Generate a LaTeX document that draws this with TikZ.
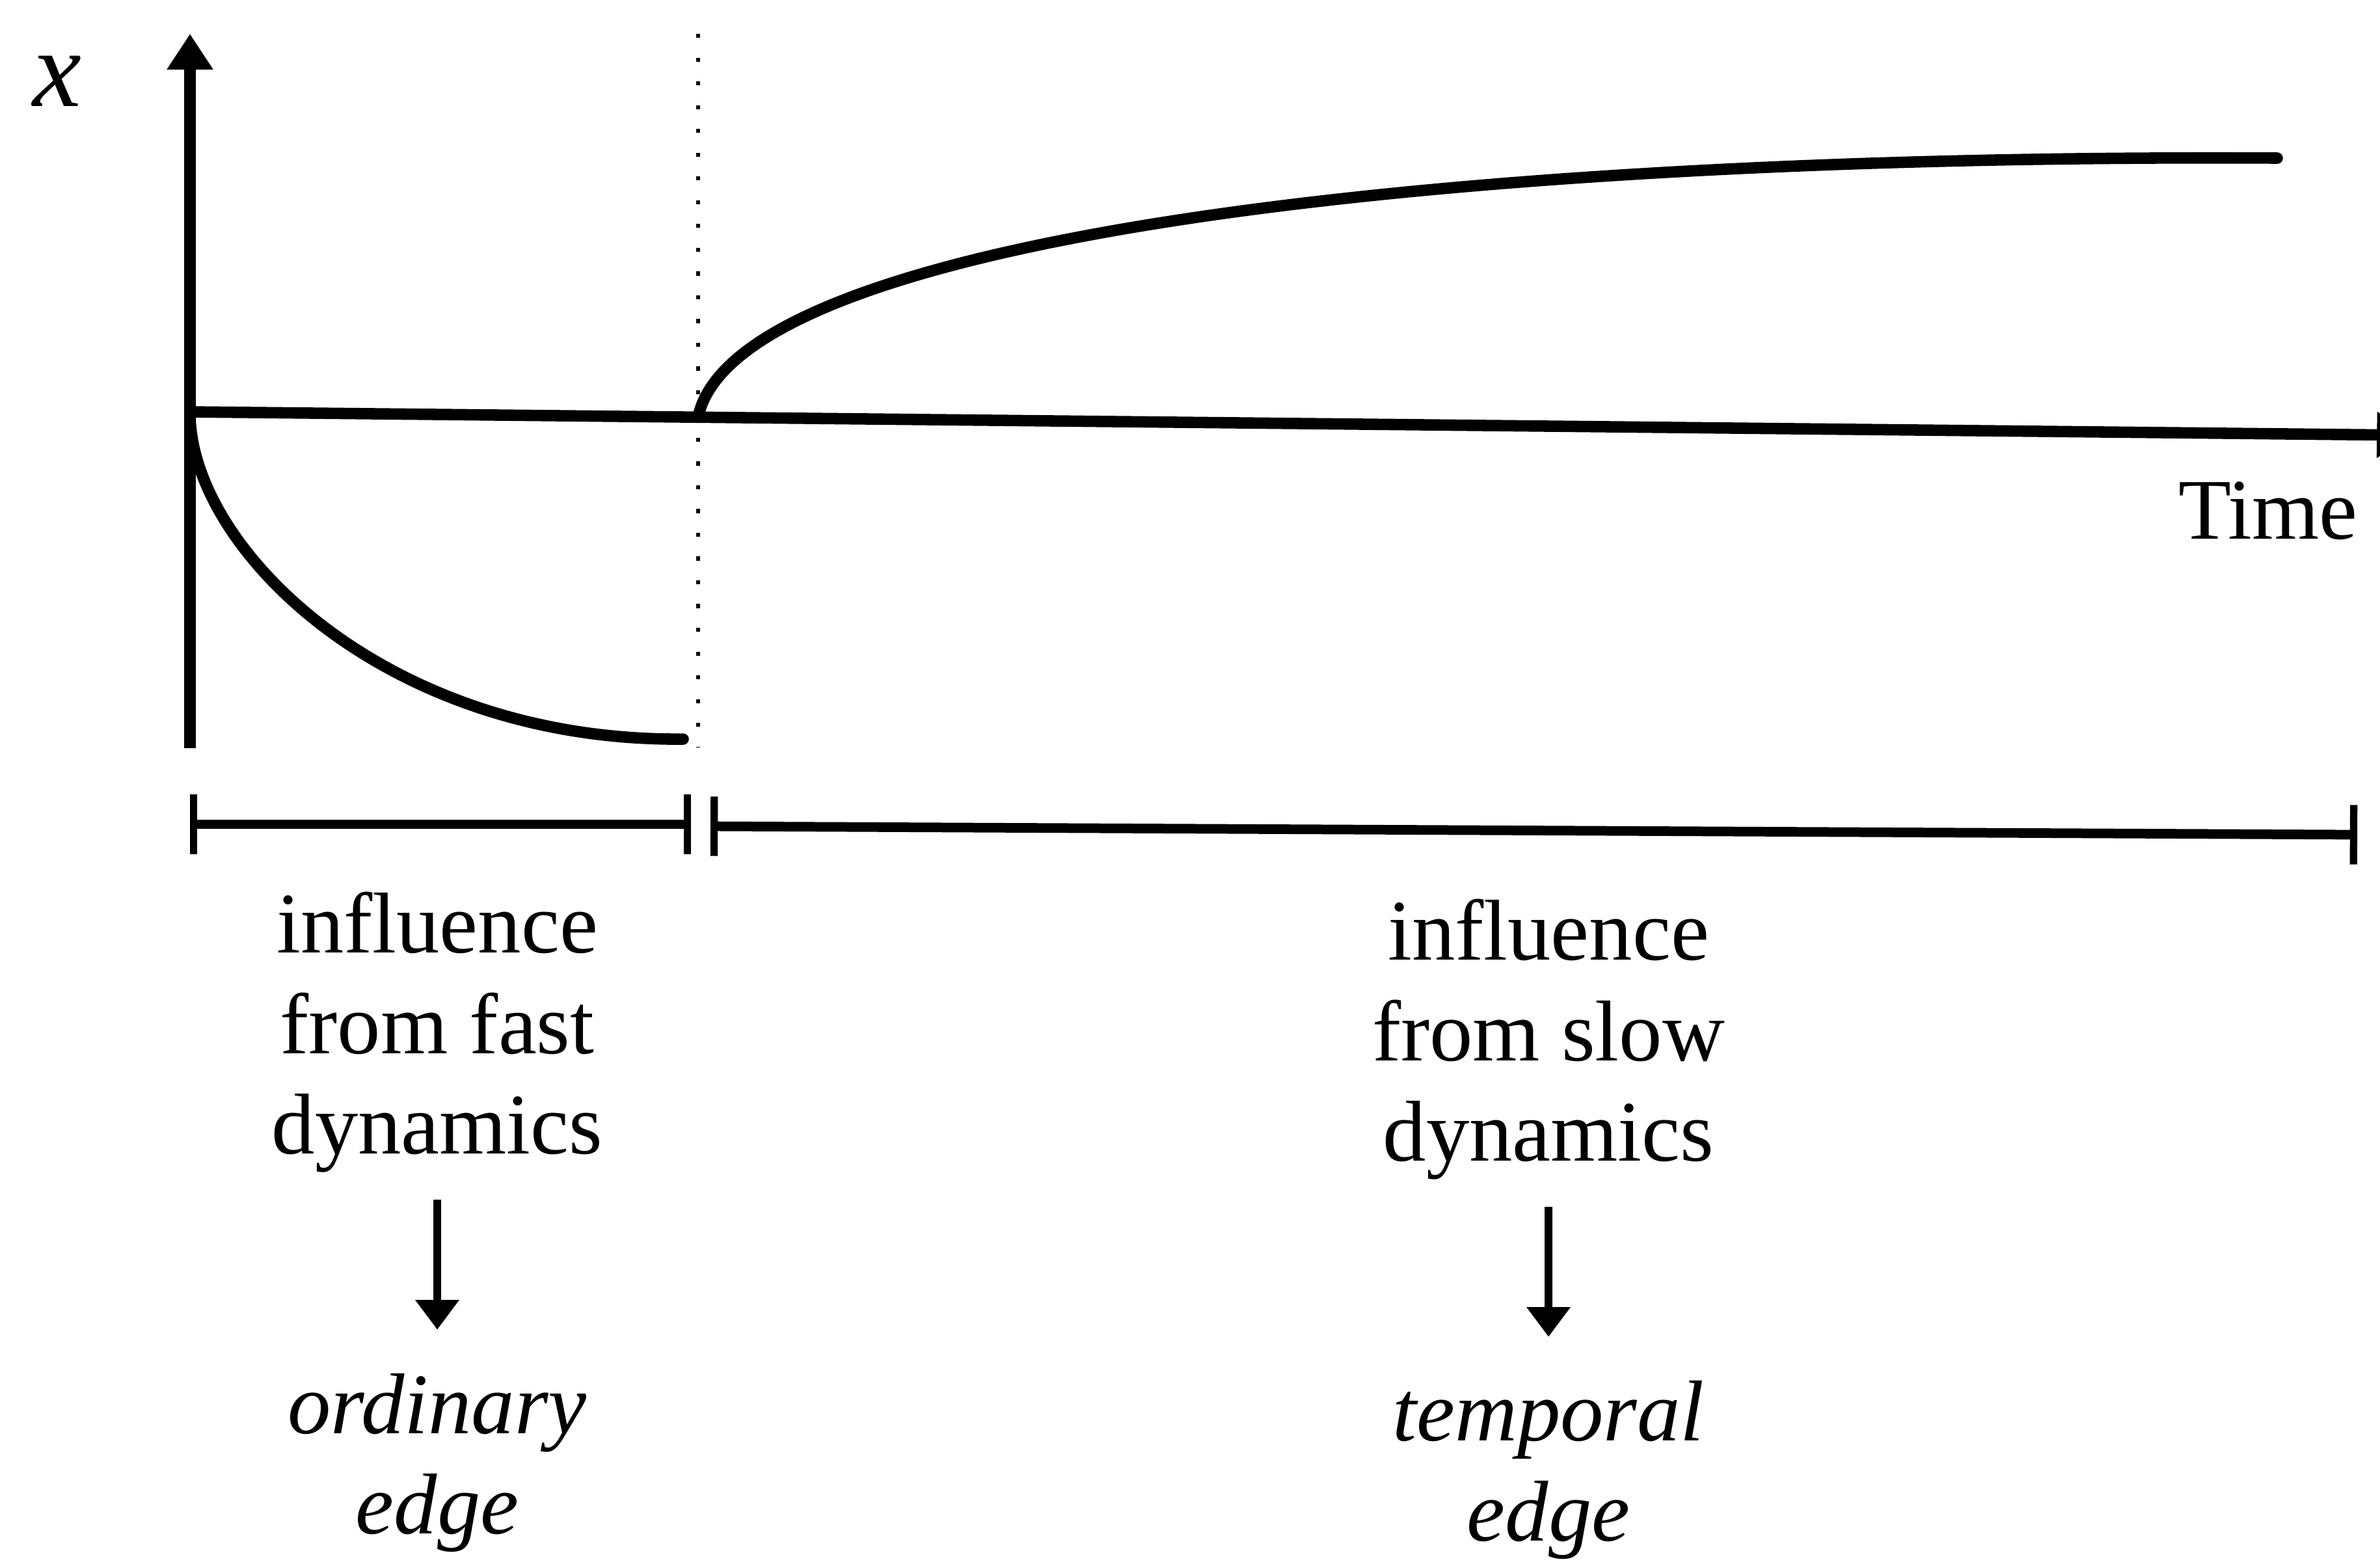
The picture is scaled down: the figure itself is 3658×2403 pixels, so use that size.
\documentclass[tikz,border=0pt]{standalone}
\usepackage{fontspec}
\setmainfont{Liberation Serif}
\usetikzlibrary{arrows.meta, positioning}

\begin{document}
\begin{tikzpicture}[
		x=0.005cm, y=-0.005cm,
		% Define styles
		axis/.style={line width=2.5pt},
		curve/.style={line width=2.5pt, line cap=round},
		guide/.style={line width=0.9pt, dash pattern=on 0.9pt off 4.3pt},
		span/.style={line width=2.1pt, {Bar[width=13pt, line width=1.6pt]}-{Bar[width=13pt, line width=1.6pt]}},
		axislabel/.style={inner sep=0pt, font=\fontsize{18.9}{22}\selectfont},
		caption/.style={inner sep=0pt, align=center, font=\fontsize{18.9}{22}\selectfont},
		result/.style={inner sep=0pt, align=center, font=\fontsize{18.9}{22}\selectfont\itshape},
		arrow/.style={line width=1.7pt, -{Triangle[length=6.5pt, width=9.2pt]}, shorten <=0.2cm, shorten >=0.33cm}
		]
		
		\useasboundingbox (0,0) rectangle (3658,2403);
		\clip (0,0) rectangle (3658,2403);
		
		% Axes
		\draw [axis, -{Triangle[length=7.8pt, width=9.6pt]}] (292,1150) -- (292,52);
		\draw [axis, -{Triangle[length=7.8pt, width=9.6pt]}] (292,633) -- (3708,669);
		\node (xlabel) [axislabel, font=\fontsize{24}{28}\selectfont\itshape] at (88,125) {x};
		\node (timelabel) [axislabel] at (3486,785) {Time};
		
		% Switching instant
		\draw [guide] (1073,52) -- (1073,1148);
		
		% Responses
		\draw [curve] (292,635) .. controls (292,840) and (590,1140) .. (1050,1136);
		\draw [curve] (1073,641) .. controls (1130,365) and (2216,236) .. (3500,243);
		
		% Time spans
		\draw [span] (292,1267) -- (1062,1267);
		\draw [span] (1092,1270) -- (3623,1283);
		
		% Captions
		\node (fast) [caption] at (672,1587) {influence\\from fast\\dynamics};
		\node (slow) [caption] at (2380,1598) {influence\\from slow\\dynamics};
		\node (ordinary) [result, below=1.53cm of fast] {ordinary\\edge};
		\node (temporal) [result, below=1.53cm of slow] {temporal\\edge};
		
		% Draw arrows
		\draw [arrow] (fast) -- (ordinary);
		\draw [arrow] (slow) -- (temporal);
		
	\end{tikzpicture}
\end{document}
